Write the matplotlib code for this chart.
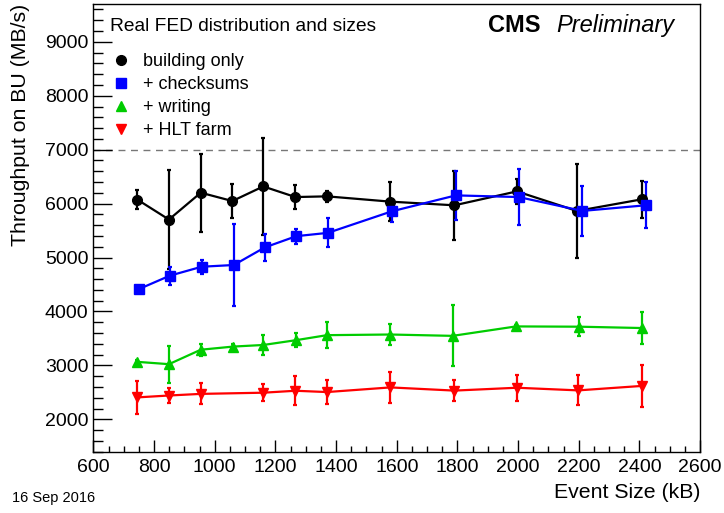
import matplotlib
matplotlib.use("Agg")
import matplotlib.pyplot as plt
from matplotlib.lines import Line2D
from matplotlib.ticker import MultipleLocator

plt.rcParams['font.family'] = ['Liberation Sans', 'DejaVu Sans']

# building only
black_x = [745, 849, 954, 1058, 1160, 1266, 1370, 1579, 1790, 1996, 2194, 2407]
black_y = [6074, 5705, 6203, 6048, 6319, 6122, 6135, 6037, 5969, 6227, 5864, 6079]
black_err = [175, 920, 720, 320, 900, 225, 100, 360, 640, 230, 875, 340]

# + checksums
blue_x = [749, 852, 957, 1063, 1165, 1269, 1373, 1584, 1795, 2002, 2212, 2420]
blue_y = [4413, 4664, 4830, 4862, 5188, 5397, 5458, 5858, 6153, 6122, 5865, 5969]
blue_err = [40, 170, 130, 755, 250, 140, 270, 200, 460, 520, 470, 430]

# + writing
green_x = [745, 849, 954, 1060, 1160, 1268, 1370, 1579, 1784, 1993, 2201, 2410]
green_y = [3066, 3023, 3291, 3349, 3379, 3468, 3561, 3573, 3548, 3723, 3718, 3693]
green_err = [30, 345, 110, 40, 190, 130, 235, 200, 565, 30, 180, 290]

# + HLT farm
red_x = [745, 849, 954, 1160, 1266, 1370, 1579, 1790, 1996, 2198, 2409]
red_y = [2407, 2442, 2472, 2494, 2530, 2506, 2592, 2533, 2586, 2537, 2620]
red_err = [313, 145, 195, 155, 270, 215, 295, 195, 245, 277, 385]

series = [
    (black_x, black_y, black_err, 'black', 'o', 'building only', 7.0),
    (blue_x, blue_y, blue_err, '#0000ff', 's', '+ checksums', 7.0),
    (green_x, green_y, green_err, '#00cc00', '^', '+ writing', 7.5),
    (red_x, red_y, red_err, '#ff0000', 'v', '+ HLT farm', 7.5),
]

fig = plt.figure(figsize=(7.24, 5.13), dpi=100)
ax = fig.add_axes([0.129, 0.1195, 0.838, 0.8725])

ax.axhline(7000, color='#777777', ls=(0, (5, 4)), lw=1.0, zorder=1)

handles = []
for x, y, e, c, m, lab, ms in series:
    ax.errorbar(x, y, yerr=e, color=c, marker=m, ms=ms, lw=1.6,
                elinewidth=1.6, capsize=1.5, capthick=1.6, zorder=3)
    handles.append(Line2D([], [], color=c, marker=m, ls='none', ms=ms, label=lab))

ax.set_xlim(600, 2600)
ax.set_ylim(1400, 9700)
ax.xaxis.set_major_locator(MultipleLocator(200))
ax.xaxis.set_minor_locator(MultipleLocator(50))
ax.yaxis.set_major_locator(MultipleLocator(1000))
ax.yaxis.set_minor_locator(MultipleLocator(200))
ax.tick_params(axis='both', which='both', direction='in', top=False, right=False,
               labelsize=14, width=1.0)
ax.tick_params(axis='y', which='major', length=14)
ax.tick_params(axis='y', which='minor', length=7)
ax.tick_params(axis='x', which='major', length=8.5)
ax.tick_params(axis='x', which='minor', length=4.3)
ax.tick_params(axis='x', pad=5)
for s in ax.spines.values():
    s.set_linewidth(1.0)

ax.set_xlabel('Event Size (kB)', fontsize=15.3, loc='right', labelpad=5)
ax.set_ylabel('Throughput on BU (MB/s)', fontsize=15.3, loc='top', labelpad=11)

ax.text(0.027, 0.95, 'Real FED distribution and sizes', transform=ax.transAxes,
        fontsize=13.8, va='center', ha='left')
leg = ax.legend(handles=handles, loc='upper left', bbox_to_anchor=(0.0, 0.918),
                frameon=False, fontsize=13, handletextpad=0.35, labelspacing=0.33,
                handlelength=1.7, borderaxespad=0.3)

ax.text(0.650, 0.952, 'CMS', transform=ax.transAxes, fontsize=17,
        fontweight='bold', va='center', ha='left')
ax.text(0.763, 0.952, 'Preliminary', transform=ax.transAxes, fontsize=17,
        fontstyle='italic', va='center', ha='left')

fig.text(0.016, 0.03, '16 Sep 2016', fontsize=10.5, va='center', ha='left')

fig.savefig('out.png', dpi=100, facecolor='white')
